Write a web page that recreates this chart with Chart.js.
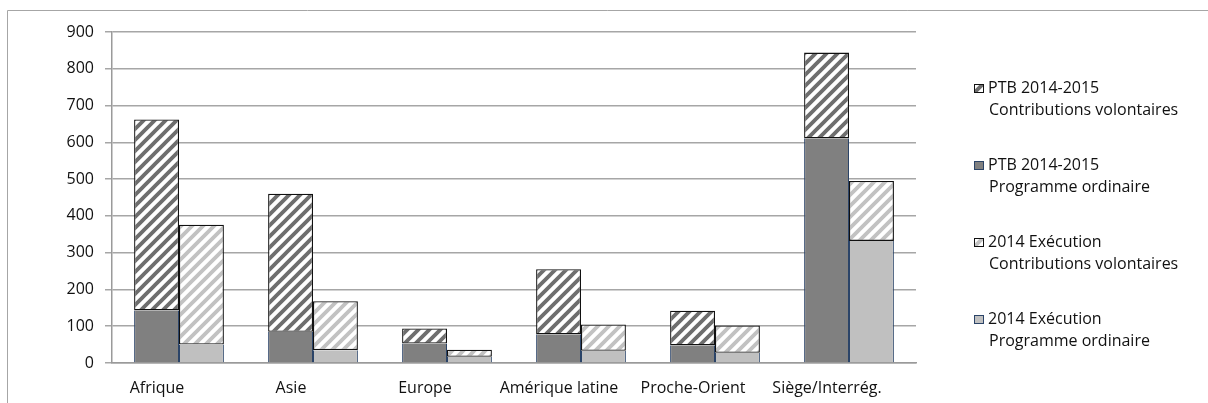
<!DOCTYPE html>
<html lang="fr">
<head>
<meta charset="utf-8">
<title>PTB 2014-2015 et exécution 2014 par région</title>
<script src="https://cdn.jsdelivr.net/npm/chart.js@4.4.1/dist/chart.umd.min.js"></script>
<style>
  html, body { margin: 0; padding: 0; background: #fff; }
  #wrap { width: 1208px; height: 403px; position: relative; }
</style>
</head>
<body>
<div id="wrap"><canvas id="chart" width="1208" height="403"></canvas></div>
<script>
// Regions (categories)
const regions = ['Afrique', 'Asie', 'Europe', 'Amérique latine', 'Proche-Orient', 'Siège/Interrég.'];

// PTB 2014-2015 (budget), millions
const ptbOrdinaire     = [143, 85, 53, 78, 48, 611];
const ptbVolontaires   = [519, 375, 41, 177, 94, 233];

// 2014 Exécution, millions
const execOrdinaire    = [50, 35, 17, 33, 28, 332];
const execVolontaires  = [326, 133, 19, 72, 74, 163];

// Y axis
const yTicks = [0, 100, 200, 300, 400, 500, 600, 700, 800, 900];

// Legend entries, top to bottom: [label line 1, label line 2]
const legendLabels = [
  ['PTB 2014-2015', 'Contributions volontaires'],
  ['PTB 2014-2015', 'Programme ordinaire'],
  ['2014 Exécution', 'Contributions volontaires'],
  ['2014 Exécution', 'Programme ordinaire']
];

const FONT = '"Open Sans", "DejaVu Sans", sans-serif';
const FONT_SIZE = 16;
const TEXT = '#111111';

// Diagonal hatch fill: white ground with "/" stripes
function makeHatch(color) {
  const s = 11;
  const c = document.createElement('canvas');
  c.width = s; c.height = s;
  const g = c.getContext('2d');
  g.fillStyle = '#ffffff';
  g.fillRect(0, 0, s, s);
  g.strokeStyle = color;
  g.lineWidth = 3.8;
  g.beginPath();
  g.moveTo(-s / 2, s / 2); g.lineTo(s / 2, -s / 2);
  g.moveTo(0, s); g.lineTo(s, 0);
  g.moveTo(s / 2, s * 1.5); g.lineTo(s * 1.5, s / 2);
  g.stroke();
  return g.createPattern(c, 'repeat');
}

const ctx = document.getElementById('chart').getContext('2d');
const hatchDark = makeHatch('#6e6e6e');
const hatchLight = makeHatch('#c2c2c2');

const solidBorder = '#2b4468';

// Outer frame and white background
const framePlugin = {
  id: 'frame',
  beforeDraw(chart) {
    const c = chart.ctx;
    c.save();
    c.fillStyle = '#ffffff';
    c.fillRect(0, 0, chart.width, chart.height);
    c.strokeStyle = '#a6a6a6';
    c.lineWidth = 1;
    c.beginPath();
    c.moveTo(7.5, chart.height);
    c.lineTo(7.5, 10.5);
    c.lineTo(chart.width, 10.5);
    c.stroke();
    c.restore();
  }
};

// Two-line legend at the right, in top-to-bottom series order
const sideLegend = {
  id: 'sideLegend',
  afterDraw(chart) {
    const c = chart.ctx;
    const order = [1, 0, 3, 2]; // dataset index for each legend row
    const x0 = 974, y0 = 88, step = 77, lineGap = 22;
    c.save();
    c.font = FONT_SIZE + 'px ' + FONT;
    c.textBaseline = 'middle';
    order.forEach((di, i) => {
      const ds = chart.data.datasets[di];
      const y = y0 + i * step;
      // swatch
      c.fillStyle = ds.backgroundColor;
      c.fillRect(x0, y - 4, 10, 9);
      c.strokeStyle = ds.legendBorder;
      c.lineWidth = 1;
      c.strokeRect(x0 + 0.5, y - 3.5, 9, 8);
      // text
      c.fillStyle = TEXT;
      c.fillText(legendLabels[i][0], x0 + 14, y);
      c.fillText(legendLabels[i][1], x0 + 15, y + lineGap);
    });
    c.restore();
  }
};

new Chart(ctx, {
  type: 'bar',
  data: {
    labels: regions,
    datasets: [
      {
        label: legendLabels[1].join(' '),
        data: ptbOrdinaire,
        stack: 'ptb',
        backgroundColor: '#808080',
        borderColor: solidBorder,
        legendBorder: solidBorder,
        borderWidth: { left: 1, right: 1, top: 0, bottom: 0 }
      },
      {
        label: legendLabels[0].join(' '),
        data: ptbVolontaires,
        stack: 'ptb',
        backgroundColor: hatchDark,
        borderColor: '#111111',
        legendBorder: '#111111',
        borderWidth: 1.3,
        borderSkipped: false
      },
      {
        label: legendLabels[3].join(' '),
        data: execOrdinaire,
        stack: 'exec',
        backgroundColor: '#c0c0c0',
        borderColor: solidBorder,
        legendBorder: solidBorder,
        borderWidth: { left: 1, right: 1, top: 0, bottom: 0 }
      },
      {
        label: legendLabels[2].join(' '),
        data: execVolontaires,
        stack: 'exec',
        backgroundColor: hatchLight,
        borderColor: '#111111',
        legendBorder: '#111111',
        borderWidth: 1.3,
        borderSkipped: false
      }
    ]
  },
  options: {
    responsive: false,
    animation: false,
    devicePixelRatio: 1,
    categoryPercentage: 0.67,
    barPercentage: 1.0,
    layout: { padding: { left: 0, top: 32, right: 292, bottom: 0 } },
    plugins: {
      legend: { display: false },
      tooltip: { enabled: false }
    },
    scales: {
      x: {
        stacked: true,
        grid: { display: false, drawTicks: false },
        border: { display: true, color: '#9a9a9a', width: 1.5 },
        ticks: {
          color: TEXT,
          font: { family: FONT, size: FONT_SIZE },
          padding: 16,
          labelOffset: -22,
          maxRotation: 0,
          autoSkip: false
        },
        afterFit(scale) { scale.height = 40; }
      },
      y: {
        stacked: true,
        min: yTicks[0],
        max: yTicks[yTicks.length - 1],
        afterBuildTicks(scale) { scale.ticks = yTicks.map(v => ({ value: v })); },
        grid: { color: '#a6a6a6', lineWidth: 1.5, tickLength: 7, drawTicks: true },
        border: { display: true, color: '#9a9a9a', width: 1.5 },
        ticks: {
          color: TEXT,
          font: { family: FONT, size: FONT_SIZE },
          padding: 11
        },
        afterFit(scale) { scale.width = 112; }
      }
    }
  },
  plugins: [framePlugin, sideLegend]
});
</script>
</body>
</html>
